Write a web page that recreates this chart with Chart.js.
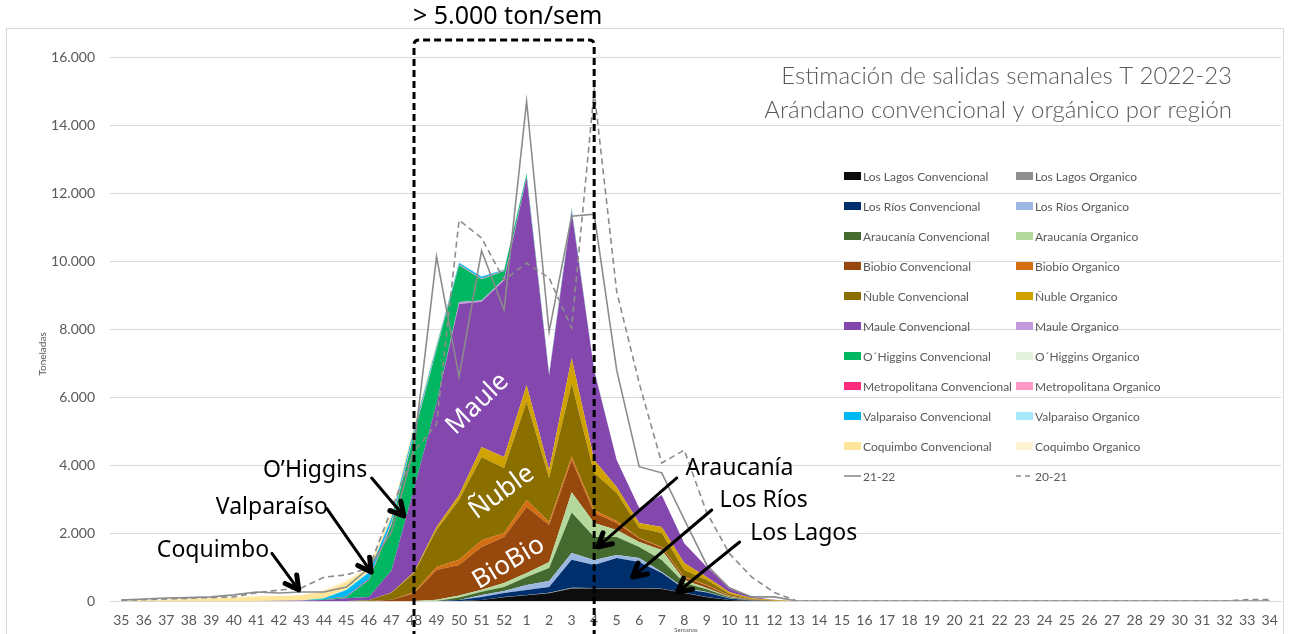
<!DOCTYPE html>
<html><head><meta charset="utf-8">
<script src="https://cdn.jsdelivr.net/npm/chart.js@4.4.0/dist/chart.umd.min.js"></script>
<style>html,body{margin:0;padding:0;background:#fff;overflow:hidden}</style>
</head><body>
<canvas id="c" width="1290" height="634"></canvas>
<script>
// ---------- DATA ----------
const weeks = ['35','36','37','38','39','40','41','42','43','44','45','46','47','48','49','50','51','52',
  '1','2','3','4','5','6','7','8','9','10','11','12','13','14','15','16','17','18','19','20','21','22','23','24','25','26','27','28','29','30','31','32','33','34'];
const yTicks = [0,2000,4000,6000,8000,10000,12000,14000,16000];

//                    35 36 37 38 39 40 41 42 43 44 45 46 47  48  49  50   51   52   1    2    3    4    5    6    7    8    9   10  11 12 13..34
const losLagosConv   = [0,0,0,0,0,0,0,0,0,0,0,0,0,0,0,0,30,110,170,230,370,370,370,370,350,235,110,30,5,0, 0,0,0,0,0,0,0,0,0,0,0,0,0,0,0,0,0,0,0,0,0,0];
const losLagosOrg    = [0,0,0,0,0,0,0,0,0,0,0,0,0,0,0,0,0,10,10,10,20,15,15,15,10,10,10,0,0,0, 0,0,0,0,0,0,0,0,0,0,0,0,0,0,0,0,0,0,0,0,0,0];
const losRiosConv    = [0,0,0,0,0,0,0,0,0,0,0,0,0,0,0,30,90,115,145,170,820,675,880,760,460,110,130,40,10,0, 0,0,0,0,0,0,0,0,0,0,0,0,0,0,0,0,0,0,0,0,0,0];
const losRiosOrg     = [0,0,0,0,0,0,0,0,0,0,0,0,0,0,0,0,60,60,145,175,200,145,90,120,35,30,15,10,0,0, 0,0,0,0,0,0,0,0,0,0,0,0,0,0,0,0,0,0,0,0,0,0];
const araucaniaConv  = [0,0,0,0,0,0,0,0,0,0,0,0,0,0,0,70,90,120,235,385,1190,680,530,325,350,145,80,30,10,0, 0,0,0,0,0,0,0,0,0,0,0,0,0,0,0,0,0,0,0,0,0,0];
const araucaniaOrg   = [0,0,0,0,0,0,0,0,0,0,0,0,0,0,40,60,60,115,120,175,600,410,200,145,295,90,40,15,0,0, 0,0,0,0,0,0,0,0,0,0,0,0,0,0,0,0,0,0,0,0,0,0];
const biobioConv     = [0,0,0,0,0,0,0,0,0,0,0,0,40,230,870,900,1260,1350,1940,1090,950,295,210,100,70,70,70,25,10,0, 0,0,0,0,0,0,0,0,0,0,0,0,0,0,0,0,0,0,0,0,0,0];
const biobioOrg      = [0,0,0,0,0,0,0,0,0,0,0,0,0,30,90,150,200,120,205,90,100,85,60,20,20,20,15,10,0,0, 0,0,0,0,0,0,0,0,0,0,0,0,0,0,0,0,0,0,0,0,0,0];
const nubleConv      = [0,0,0,0,0,0,0,0,0,0,0,20,200,560,1090,1760,2440,1910,2880,1295,2150,1090,820,290,410,200,145,50,20,10, 0,0,0,0,0,0,0,0,0,0,0,0,0,0,0,0,0,0,0,0,0,0];
const nubleOrg       = [0,0,0,0,0,0,0,0,0,0,0,0,10,30,90,150,300,325,500,235,750,385,180,150,175,210,90,55,25,20, 0,0,0,0,0,0,0,0,0,0,0,0,0,0,0,0,0,0,0,0,0,0];
const mauleConv      = [0,0,0,0,0,0,0,10,15,30,80,100,650,2450,3620,5615,4270,5200,6100,2780,4300,2620,790,440,940,580,295,147,38,5, 0,0,0,0,0,0,0,0,0,0,0,0,0,0,0,0,0,0,0,0,0,0];
const mauleOrg       = [0,0,0,0,0,0,0,0,0,0,0,0,0,0,0,60,40,40,30,20,40,10,0,0,0,0,0,0,0,0, 0,0,0,0,0,0,0,0,0,0,0,0,0,0,0,0,0,0,0,0,0,0];
const ohigginsConv   = [0,0,0,0,0,0,0,0,0,20,40,500,1350,1600,1600,1080,620,230,80,30,50,20,0,0,0,0,0,0,0,0, 0,0,0,0,0,0,0,0,0,0,0,0,0,0,0,0,0,0,0,0,0,0];
const ohigginsOrg    = [0,0,0,0,0,0,0,0,0,0,0,0,20,20,20,10,10,10,0,0,0,0,0,0,0,0,0,0,0,0, 0,0,0,0,0,0,0,0,0,0,0,0,0,0,0,0,0,0,0,0,0,0];
const metroConv      = [0,0,0,0,0,0,0,0,0,0,10,30,40,30,20,15,15,10,0,0,0,0,0,0,0,0,0,0,0,0, 0,0,0,0,0,0,0,0,0,0,0,0,0,0,0,0,0,0,0,0,0,0];
const metroOrg       = [0,0,0,0,0,0,0,0,0,0,0,0,10,10,0,0,0,0,0,0,0,0,0,0,0,0,0,0,0,0, 0,0,0,0,0,0,0,0,0,0,0,0,0,0,0,0,0,0,0,0,0,0];
const valpoConv      = [0,0,0,0,0,0,0,0,0,30,190,190,120,100,60,40,50,20,20,15,20,0,0,0,0,0,0,0,0,0, 0,0,0,0,0,0,0,0,0,0,0,0,0,0,0,0,0,0,0,0,0,0];
const valpoOrg       = [0,0,0,0,0,0,0,0,0,0,20,20,20,20,20,20,20,10,0,0,0,0,0,0,0,0,0,0,0,0, 0,0,0,0,0,0,0,0,0,0,0,0,0,0,0,0,0,0,0,0,0,0];
const coquimboConv   = [20,30,45,60,75,95,140,140,155,200,220,120,100,80,50,0,0,0,0,0,0,0,0,0,0,0,0,0,0,0, 0,0,0,0,0,0,0,0,0,0,0,0,0,0,0,0,0,0,0,0,0,0];
const coquimboOrg    = [0,0,0,0,0,0,0,0,10,40,50,30,20,20,10,0,0,0,0,0,0,0,0,0,0,0,0,0,0,0, 0,0,0,0,0,0,0,0,0,0,0,0,0,0,0,0,0,0,0,0,0,0];

const season2122 = [30,60,90,100,120,180,265,235,265,265,410,970,2030,4500,10130,6600,10300,8560,14690,7920,11320,11380,6790,3950,3770,2400,1060,380,120,120, 0,0,0,0,0,0,0,0,0,0,0,0,0,0,0,0,0,0,0,0,0,0];
const season2021 = [20,40,60,80,100,120,240,320,380,700,770,970,2700,4400,5200,11200,10680,9440,9940,9500,8030,15000,9100,6410,4060,4440,2600,1400,700,250, 0,0,0,0,0,0,0,0,0,0,0,0,0,0,0,0,0,0,0,0,40,40];

const areaSeries = [
  ['Los Lagos Convencional', losLagosConv], ['Los Lagos Organico', losLagosOrg],
  ['Los Ríos Convencional', losRiosConv], ['Los Ríos Organico', losRiosOrg],
  ['Araucanía Convencional', araucaniaConv], ['Araucanía Organico', araucaniaOrg],
  ['Biobío Convencional', biobioConv], ['Biobío Organico', biobioOrg],
  ['Ñuble Convencional', nubleConv], ['Ñuble Organico', nubleOrg],
  ['Maule Convencional', mauleConv], ['Maule Organico', mauleOrg],
  ['O´Higgins Convencional', ohigginsConv], ['O´Higgins Organico', ohigginsOrg],
  ['Metropolitana Convencional', metroConv], ['Metropolitana Organico', metroOrg],
  ['Valparaiso Convencional', valpoConv], ['Valparaiso Organico', valpoOrg],
  ['Coquimbo Convencional', coquimboConv], ['Coquimbo Organico', coquimboOrg]
];
const lineSeries = [['21-22', season2122], ['20-21', season2021]];

// ---------- STYLES ----------
const areaColors = ['#0D0D0D','#8E8E8E','#002F6E','#9CB8E2','#456A2F','#B5D99C','#97480C','#D46F11',
  '#8A6E00','#D0A200','#8347AD','#C49ADF','#00B661','#E4F1DD','#FF2C7D','#FF99C4','#00B8F1','#A6E8FC','#FFE699','#FFF2D2'];
const lineColor = '#8C8C8C';
const FONT = 'Lato';
const SANS = '"Noto Sans"';

const datasets = areaSeries.map(([label, data], k) => ({
  label, data, yAxisID: 'y', stack: 'regions', order: 1,
  backgroundColor: areaColors[k], borderColor: 'rgba(0,0,0,0)', borderWidth: 0,
  fill: k === 0 ? 'origin' : '-1', pointRadius: 0, tension: 0
}));
lineSeries.forEach(([label, data], k) => datasets.push({
  label, data, yAxisID: 'y2', order: 0, fill: false,
  borderColor: lineColor, borderWidth: 1.6, borderDash: k === 1 ? [6, 4] : [],
  pointRadius: 0, tension: 0
}));

// ---------- ANNOTATIONS (data space: category index, value) ----------
const calloutLabels = [
  {text: 'O’Higgins', i: 6.29, v: 3850},
  {text: 'Valparaíso', i: 4.2, v: 2765},
  {text: 'Coquimbo', i: 1.58, v: 1500},
  {text: 'Araucanía', i: 25.06, v: 3900},
  {text: 'Los Ríos', i: 26.57, v: 2950},
  {text: 'Los Lagos', i: 27.93, v: 2000}
];
const arrows = [
  {from: [11.12, 3618], to: [12.55, 2500]},
  {from: [9.13, 2720], to: [11.1, 850]},
  {from: [6.69, 1400], to: [7.88, 330]},
  {from: [24.67, 3618], to: [21.16, 1590]},
  {from: [26.22, 2676], to: [22.71, 706]},
  {from: [27.46, 1735], to: [24.71, 265]}
];
const regionLabels = [
  {text: 'Maule', i: 15.82, v: 5800, rot: -44},
  {text: 'Ñuble', i: 16.9, v: 3200, rot: -36},
  {text: 'BioBio', i: 17.2, v: 1120, rot: -31}
];
const peakBox = {from: 13, to: 21, top: 16500, caption: '> 5.000 ton/sem', captionI: 17.16, captionV: 17170};
const titleLines = ['Estimación de salidas semanales T 2022-23', 'Arándano convencional y orgánico por región'];

function fmt(v){ return v.toString().replace(/\B(?=(\d{3})+(?!\d))/g, '.'); }

function drawArrow(c, x1, y1, x2, y2){
  c.save();
  c.strokeStyle = '#000'; c.lineCap = 'round'; c.lineJoin = 'round';
  c.lineWidth = 3;
  c.beginPath(); c.moveTo(x1, y1); c.lineTo(x2, y2); c.stroke();
  const a = Math.atan2(y2 - y1, x2 - x1), L = 15, w = 0.5;
  c.lineWidth = 5;
  c.beginPath();
  c.moveTo(x2 - L * Math.cos(a - w), y2 - L * Math.sin(a - w));
  c.lineTo(x2, y2);
  c.lineTo(x2 - L * Math.cos(a + w), y2 - L * Math.sin(a + w));
  c.stroke();
  c.restore();
}

const deco = {
  id: 'deco',
  beforeDraw(chart){
    const c = chart.ctx;
    c.save();
    c.fillStyle = '#fff'; c.fillRect(0, 0, chart.width, chart.height);
    c.strokeStyle = '#D9D9D9'; c.lineWidth = 1; c.strokeRect(6.5, 28.5, 1277, 640);
    c.restore();
  },
  afterDatasetsDraw(chart){
    const c = chart.ctx, xs = chart.scales.x, ys = chart.scales.y;
    const px = i => xs.getPixelForValue(i), py = v => ys.getPixelForValue(v);
    // white region labels
    c.save();
    c.fillStyle = '#fff'; c.textAlign = 'center'; c.textBaseline = 'middle';
    c.font = '26px ' + SANS;
    regionLabels.forEach(r => {
      c.save(); c.translate(px(r.i), py(r.v)); c.rotate(r.rot * Math.PI / 180);
      c.fillText(r.text, 0, 0); c.restore();
    });
    c.restore();
    // dashed box
    c.save();
    const x1 = px(peakBox.from), x2 = px(peakBox.to), yt = py(peakBox.top), yb = chart.height + 4, r = 5;
    c.strokeStyle = '#000'; c.lineWidth = 3; c.setLineDash([7, 4]);
    c.beginPath();
    c.moveTo(x1, yb); c.lineTo(x1, yt + r); c.quadraticCurveTo(x1, yt, x1 + r, yt);
    c.lineTo(x2 - r, yt); c.quadraticCurveTo(x2, yt, x2, yt + r); c.lineTo(x2, yb);
    c.stroke();
    c.restore();
    // caption
    c.save();
    c.fillStyle = '#000'; c.textAlign = 'center'; c.textBaseline = 'middle';
    c.font = '25px ' + SANS;
    c.fillText(peakBox.caption, px(peakBox.captionI), py(peakBox.captionV));
    // callouts
    c.font = '23px ' + SANS;
    c.textAlign = 'left';
    calloutLabels.forEach(l => c.fillText(l.text, px(l.i), py(l.v)));
    c.restore();
    arrows.forEach(a => drawArrow(c, px(a.from[0]), py(a.from[1]), px(a.to[0]), py(a.to[1])));
  },
  afterDraw(chart){
    const c = chart.ctx;
    c.save();
    // title
    c.fillStyle = '#595959'; c.textAlign = 'right'; c.textBaseline = 'middle';
    c.font = '300 24px ' + FONT;
    c.fillText(titleLines[0], 1232, 76);
    c.fillText(titleLines[1], 1232, 110);
    // axis titles
    c.font = '10px ' + FONT; c.textAlign = 'center';
    c.save(); c.translate(43, 354); c.rotate(-Math.PI / 2); c.fillText('Toneladas', 0, 0); c.restore();
    c.font = '6px ' + FONT; c.fillText('Semanas', 686, 630);
    // legend (2 columns)
    c.font = '12px ' + FONT; c.textAlign = 'left';
    chart.data.datasets.forEach((ds, k) => {
      const col = k % 2, row = Math.floor(k / 2);
      const x = [844, 1016][col], y = 176 + row * 30;
      if (ds.fill === false) {
        c.save(); c.strokeStyle = ds.borderColor; c.lineWidth = 1.6; c.setLineDash(ds.borderDash.length ? [5, 4] : []);
        c.beginPath(); c.moveTo(x, y); c.lineTo(x + 17, y); c.stroke(); c.restore();
      } else {
        c.fillStyle = ds.backgroundColor; c.fillRect(x, y - 4, 17, 8);
      }
      c.fillStyle = '#595959';
      c.fillText(ds.label, x + 19, y + 1);
    });
    c.restore();
  }
};

new Chart(document.getElementById('c'), {
  type: 'line',
  data: {labels: weeks, datasets},
  options: {
    responsive: false, animation: false,
    layout: {padding: {top: 57, right: 9, left: 0, bottom: 0}},
    plugins: {legend: {display: false}, tooltip: {enabled: false}, title: {display: false}},
    scales: {
      x: {
        type: 'category', offset: true,
        grid: {display: false, drawTicks: false},
        border: {display: true, color: '#D9D9D9', width: 1},
        ticks: {autoSkip: false, maxRotation: 0, minRotation: 0, color: '#595959', font: {family: FONT, size: 14}, padding: 11},
        afterFit(s){ s.height = 33; }
      },
      y: {
        stacked: true, min: 0, max: 16000,
        afterBuildTicks(s){ s.ticks = yTicks.map(v => ({value: v})); },
        ticks: {color: '#595959', font: {family: FONT, size: 14}, padding: 15, callback: v => fmt(v)},
        grid: {color: '#D9D9D9', drawTicks: false},
        border: {display: false},
        afterFit(s){ s.width = 110; }
      },
      y2: {display: false, min: 0, max: 16000, stacked: false}
    }
  },
  plugins: [deco]
});
</script>
</body></html>
